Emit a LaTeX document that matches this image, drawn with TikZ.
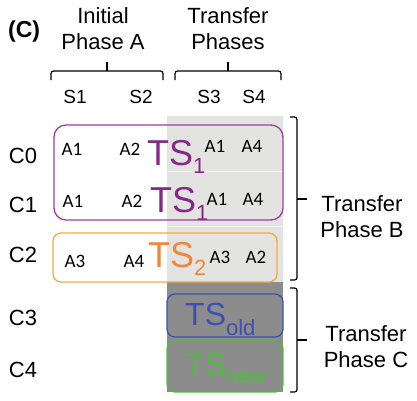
\documentclass[tikz,border=0pt]{standalone}
\usepackage{fontspec}
\setmainfont{Liberation Sans}
\newfontfamily\cellfont{Carlito}
\definecolor{tspurple}{HTML}{85288A}
\definecolor{boxpurple}{HTML}{9C3FA0}
\definecolor{tsorange}{HTML}{F2873A}
\definecolor{boxorange}{HTML}{F6A93A}
\definecolor{tsblue}{HTML}{3F4FB0}
\definecolor{tsgreen}{HTML}{4CBF3A}
\definecolor{lightshade}{HTML}{E3E3E2}
\definecolor{darkshade}{HTML}{8C8C8C}
\newcommand{\tssub}[2][8pt]{\raisebox{-#1}{\fontsize{22}{22}\selectfont #2}}
\tikzset{
    headnode/.style = {
        align=center,
        inner sep=0pt,
        anchor=north,
        font=\fontsize{22}{26}\selectfont
    },
    colnode/.style = {
        inner sep=0pt,
        anchor=base,
        font=\fontsize{19}{22}\selectfont
    },
    rownode/.style = {
        colnode,
        font=\fontsize{22}{26}\selectfont
    },
    cellnode/.style = {
        colnode,
        font=\cellfont\fontsize{19}{22}\selectfont
    },
    tsnode/.style = {
        inner sep=0pt,
        anchor=base west,
        font=\fontsize{36}{40}\selectfont
    },
    smalltsnode/.style = {
        tsnode,
        font=\fontsize{32}{36}\selectfont
    },
    phasebrace/.style = {
        line width=1.2pt,
        rounded corners=2.5pt
    },
    groupbox/.style = {
        line width=1.3pt,
        rounded corners=8pt
    }
}

\begin{document}
\begin{tikzpicture}[x=1pt, y=-1pt]
    \useasboundingbox (0,0) rectangle (417,400);
    \fill[lightshade] (167,116) rectangle (283,282);
    \fill[darkshade] (167,282) rectangle (283,392);
    \draw[white, opacity=0.6, line width=0.6pt] (167,171) -- (283,171);
    \draw[white, opacity=0.6, line width=0.6pt] (167,226) -- (283,226);

    \node [anchor=base west, inner sep=0pt, font=\bfseries\fontsize{23}{26}\selectfont] (panel) at (8,37) {(C)};
    \node [headnode] (initial) at (103,7.5) {Initial\\Phase A};
    \node [headnode] (transfer) at (228,7.5) {Transfer\\Phases};
    \draw [phasebrace] (51,80) -- (51,71) -- (163,71) -- (163,80);
    \draw [phasebrace] (107,71) -- (107,62);
    \draw [phasebrace] (175,80) -- (175,71) -- (281,71) -- (281,80);
    \draw [phasebrace] (228,71) -- (228,62);
    \node [colnode] (s1) at (75,103) {S1};
    \node [colnode] (s2) at (141,103) {S2};
    \node [colnode] (s3) at (209,103) {S3};
    \node [colnode] (s4) at (254,103) {S4};

    \node [rownode] (c0) at (23,163) {C0};
    \node [rownode] (c1) at (23,212) {C1};
    \node [rownode] (c2) at (23,262) {C2};
    \node [rownode] (c3) at (23,325) {C3};
    \node [rownode] (c4) at (23,377) {C4};

    \draw [groupbox, boxpurple, rounded corners=12pt] (54,125) rectangle (283,220);
    \draw [groupbox, boxorange] (53,233) rectangle (277,282);
    \draw [groupbox, tsblue] (167,294) rectangle (283,337);
    \draw [groupbox, tsgreen] (167,341) rectangle (283,392);

    \node [cellnode] (c0a) at (72,155) {A1};
    \node [cellnode] (c0b) at (130,155) {A2};
    \node [tsnode, tspurple] (ts0) at (147,165) {TS\tssub{1}};
    \node [cellnode] (c0c) at (215,152) {A1};
    \node [cellnode] (c0d) at (252,152) {A4};

    \node [cellnode] (c1a) at (73,207) {A1};
    \node [cellnode] (c1b) at (132,207) {A2};
    \node [tsnode, tspurple] (ts1) at (150,212) {TS\tssub{1}};
    \node [cellnode] (c1c) at (217,205) {A1};
    \node [cellnode] (c1d) at (253,205) {A4};

    \node [cellnode] (c2a) at (75,267) {A3};
    \node [cellnode] (c2b) at (134,267) {A4};
    \node [tsnode, tsorange] (ts2) at (148,267) {TS\tssub{2}};
    \node [cellnode] (c2c) at (220,263) {A3};
    \node [cellnode] (c2d) at (256,263) {A2};

    \node [smalltsnode, tsblue] (tsold) at (185,325) {TS\tssub[10pt]{old}};
    \node [smalltsnode, tsgreen] (tsnew) at (185,375) {TS\tssub{new}};

    \draw [phasebrace] (290,117) -- (297,117) -- (297,280) -- (290,280);
    \draw [phasebrace] (297,199) -- (307,199);
    \draw [phasebrace] (290,288) -- (297,288) -- (297,392) -- (290,392);
    \draw [phasebrace] (297,340) -- (307,340);
    \node [headnode] (phaseb) at (362,195.5) {Transfer\\Phase B};
    \node [headnode] (phasec) at (366,325.5) {Transfer\\Phase C};
\end{tikzpicture}
\end{document}
